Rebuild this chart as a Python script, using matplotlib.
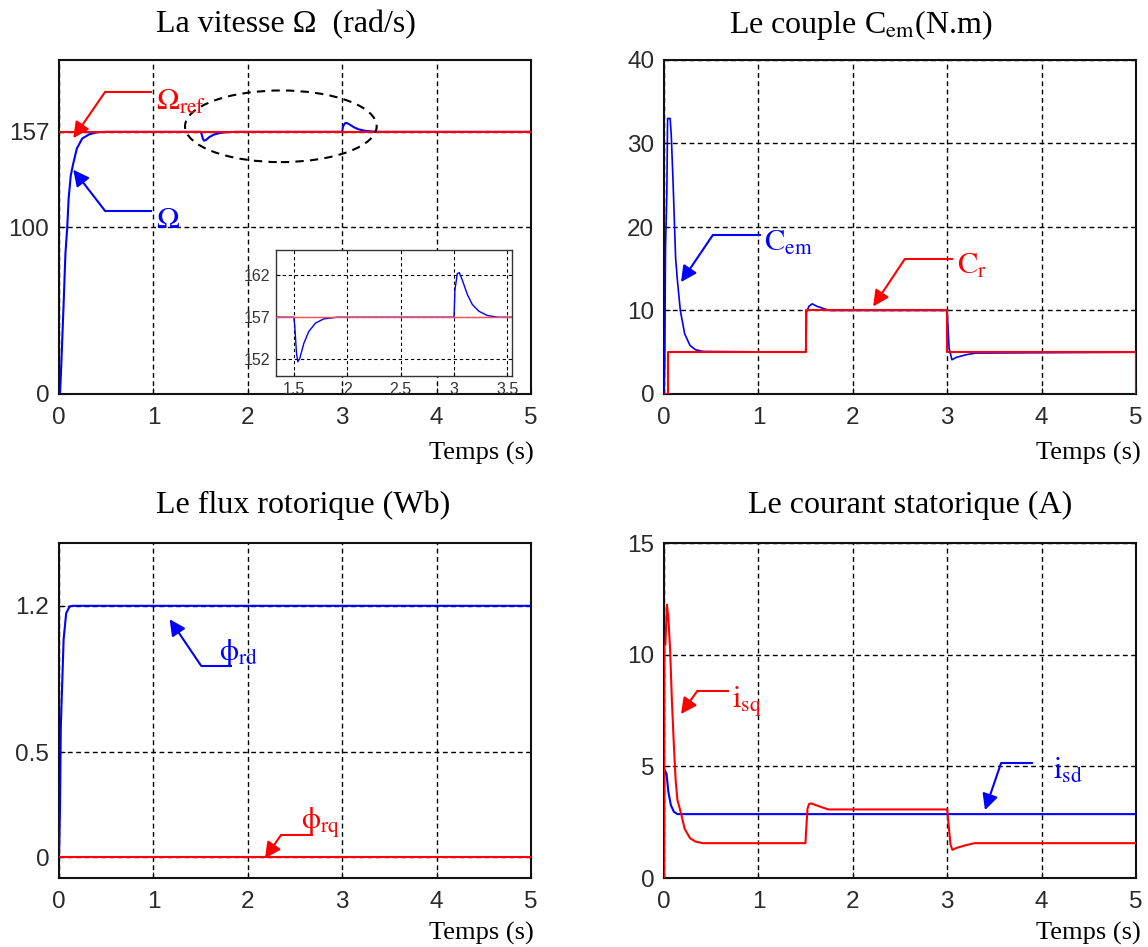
import matplotlib
matplotlib.use("Agg")
import matplotlib.pyplot as plt
from matplotlib.patches import Ellipse

plt.rcParams["mathtext.fontset"] = "stix"

# ---- simulation traces (time in s) ----
omega_ref_t = [0, 5]
omega_ref = [157, 157]
omega_t = [0, 0.011, 0.026, 0.049, 0.068, 0.087, 0.102, 0.125, 0.151, 0.189,
           0.246, 0.321, 0.397, 0.51,
           1.5, 1.509, 1.525, 1.5375, 1.556, 1.594, 1.64, 1.703, 1.78, 1.906,
           3.0, 3.009, 3.031, 3.05, 3.078, 3.125, 3.172, 3.234, 3.313, 3.41, 5.0]
omega = [0, 0, 20, 54, 84, 99.6, 117, 131, 138, 147,
         153, 155.5, 156.7, 157,
         157, 155.9, 152.7, 151.7, 152.1, 153.9, 155.3, 156.3, 156.8, 157,
         157, 160.3, 162.2, 162.3, 161.4, 159.7, 158.5, 157.7, 157.2, 157, 157]

cem_t = [0, 0.008, 0.016, 0.03, 0.038, 0.065, 0.077, 0.096, 0.111, 0.123,
         0.142, 0.173, 0.219, 0.276, 0.334, 0.41,
         1.5, 1.505, 1.51, 1.535, 1.57, 1.62, 1.7, 1.75,
         3.0, 3.005, 3.02, 3.05, 3.1, 3.2, 3.3, 5.0]
cem = [0, 3.5, 17.5, 24, 33, 33, 31, 25.4, 20.3, 16.3,
       13.6, 10, 7.2, 5.8, 5.3, 5.1,
       5, 6.4, 9.8, 10.5, 10.8, 10.5, 10.2, 10,
       10, 8.8, 5.5, 4.1, 4.4, 4.7, 4.9, 5]
cr_t = [0, 0.04, 1.5, 3.0, 5.0]
cr = [0, 5, 10, 5, 0]

phird_t = [0, 0.011, 0.019, 0.038, 0.049, 0.076, 0.113, 0.15, 5.0]
phird = [0, 0.237, 0.62, 0.885, 1.04, 1.165, 1.197, 1.2, 1.2]
phirq_t = [0, 5]
phirq = [0, 0]

isd_t = [0, 0.003, 0.008, 0.027, 0.046, 0.073, 0.104, 0.142, 5.0]
isd = [0, 4.8, 4.82, 4.67, 3.86, 3.26, 2.97, 2.86, 2.86]
isq_t = [0, 0.004, 0.015, 0.031, 0.046, 0.065, 0.084, 0.104, 0.123, 0.142,
         0.18, 0.219, 0.276, 0.334, 0.41,
         1.498, 1.51, 1.52, 1.536, 1.56, 1.65, 1.74,
         3.0, 3.01, 3.035, 3.055, 3.1, 3.2, 3.29, 5.0]
isq = [0, 10.4, 10.46, 12.24, 11.65, 10.2, 7.9, 6.0, 4.4, 3.5,
       2.9, 2.2, 1.78, 1.63, 1.56,
       1.56, 2.4, 3.1, 3.31, 3.34, 3.2, 3.07,
       3.07, 2.6, 1.5, 1.26, 1.35, 1.47, 1.56, 1.56]

time_ticks = [0, 1, 2, 3, 4, 5]

BLUE = "#0000ff"
RED = "#ff0000"
SERIF = ["Liberation Serif", "DejaVu Serif"]
SANS = ["Liberation Sans", "DejaVu Sans"]
GRID = dict(color="black", linestyle=(0, (3.5, 2.5)), linewidth=1.0)

W, H = 1148, 947
fig = plt.figure(figsize=(W / 100, H / 100), dpi=100)
fig.patch.set_facecolor("white")


def rect(x0, x1, y0, y1):
    return [x0 / W, 1 - y1 / H, (x1 - x0) / W, (y1 - y0) / H]


def style(ax, yticks, ylabels, ylim, size=17.5, xpad=9, ypad=7):
    ax.set_xlim(0, 5)
    ax.set_ylim(*ylim)
    ax.set_xticks(time_ticks)
    ax.set_xticklabels([str(t) for t in time_ticks])
    ax.set_yticks(yticks)
    ax.set_yticklabels(ylabels)
    ax.grid(True, **GRID)
    ax.set_axisbelow(True)
    ax.tick_params(direction="in", length=4, labelsize=size, labelcolor="#2a2a2a")
    ax.tick_params(axis="x", pad=xpad)
    ax.tick_params(axis="y", pad=ypad)
    for lab in ax.get_xticklabels() + ax.get_yticklabels():
        lab.set_family(SANS)
    for s in ax.spines.values():
        s.set_linewidth(1.5)
        s.set_color("#111111")


def callout(ax, text, color, start, corner, tip, tpos):
    ax.plot([start[0], corner[0]], [start[1], corner[1]], color=color, lw=1.5,
            solid_capstyle="butt", zorder=6)
    ax.annotate("", xy=tip, xytext=corner,
                arrowprops=dict(arrowstyle="-|>", color=color, lw=1.5,
                                mutation_scale=24, shrinkA=0, shrinkB=0),
                zorder=6)
    ax.text(tpos[0], tpos[1], text, color=color, fontsize=22, ha="left",
            va="baseline", family=SERIF, zorder=6)


def titles(x, y, s):
    fig.text(x / W, 1 - y / H, s, ha="center", va="center", fontsize=23,
             family=SERIF)


def temps(x, y):
    fig.text(x / W, 1 - y / H, "Temps (s)", ha="right", va="center",
             fontsize=19, family=SERIF)


# ---- speed ----
ax1 = fig.add_axes(rect(59, 531, 60, 394))
ax1.plot(omega_t, omega, color=BLUE, lw=1.5, zorder=3)
ax1.plot(omega_ref_t, omega_ref, color=RED, lw=1.5, zorder=4)
style(ax1, [0, 100, 157], ["0", "100", "157"], (0, 200))
ax1.add_patch(Ellipse((2.35, 160.3), 2.03, 42.9, fill=False, color="black",
                      linestyle=(0, (4, 3)), lw=1.5, zorder=5))
callout(ax1, r"$\mathrm{\Omega_{ref}}$", RED, (0.983, 181), (0.49, 181),
        (0.151, 153.2), (1.03, 170.4))
callout(ax1, r"$\mathrm{\Omega}$", BLUE, (0.983, 109.5), (0.49, 109.5),
        (0.151, 134.3), (1.03, 99.6))

axi = fig.add_axes(rect(276, 512, 250, 376))
axi.plot(omega_t, omega, color=BLUE, lw=1.0, zorder=3)
axi.plot(omega_ref_t, omega_ref, color="#ff5050", lw=1.0, zorder=4)
axi.set_xlim(1.333, 3.543)
axi.set_ylim(150, 165)
axi.set_xticks([1.5, 2, 2.5, 3, 3.5])
axi.set_xticklabels(["1.5", "2", "2.5", "3", "3.5"])
axi.set_yticks([152, 157, 162])
axi.set_yticklabels(["152", "157", "162"])
axi.grid(True, color="black", linestyle=(0, (3, 2.5)), linewidth=0.8)
axi.tick_params(direction="in", length=3, labelsize=11.5, labelcolor="#333333",
                pad=4)
for lab in axi.get_xticklabels() + axi.get_yticklabels():
    lab.set_family(SANS)
for s in axi.spines.values():
    s.set_linewidth(1.0)
    s.set_color("#333333")
titles(286, 25, "La vitesse Ω  (rad/s)")
temps(534, 453)

# ---- torque ----
ax2 = fig.add_axes(rect(664, 1136, 60, 394))
ax2.plot(cem_t, cem, color=BLUE, lw=1.2, zorder=3)
ax2.plot(cr_t, cr, color=RED, lw=1.5, drawstyle="steps-post", zorder=4)
style(ax2, [0, 10, 20, 30, 40], ["0", "10", "20", "30", "40"], (0, 40))
callout(ax2, r"$\mathrm{C_{em}}$", BLUE, (1.025, 19.05), (0.518, 19.05),
        (0.18, 13.4), (1.064, 17.1))
callout(ax2, r"$\mathrm{C_{r}}$", RED, (3.06, 16.15), (2.55, 16.15),
        (2.216, 10.48), (3.10, 14.4))
titles(861, 25, r"Le couple C$_{\mathrm{em}}$(N.m)")
temps(1141, 453)

# ---- rotor flux ----
ax3 = fig.add_axes(rect(59, 531, 543, 878))
ax3.plot(phird_t, phird, color=BLUE, lw=1.5, zorder=3)
ax3.plot(phirq_t, phirq, color=RED, lw=1.5, zorder=4)
style(ax3, [0, 0.5, 1.2], ["0", "0.5", "1.2"], (-0.1, 1.5))
callout(ax3, r"$\mathrm{\phi_{rd}}$", BLUE, (1.834, 0.914), (1.505, 0.914),
        (1.172, 1.136), (1.70, 0.94))
callout(ax3, r"$\mathrm{\phi_{rq}}$", RED, (2.693, 0.1056), (2.352, 0.1056),
        (2.182, -0.0064), (2.56, 0.133))
titles(303, 505, "Le flux rotorique (Wb)")
temps(534, 933)

# ---- stator current ----
ax4 = fig.add_axes(rect(664, 1136, 543, 878))
ax4.plot(isd_t, isd, color=BLUE, lw=1.5, zorder=3)
ax4.plot(isq_t, isq, color=RED, lw=1.5, zorder=4)
style(ax4, [0, 5, 10, 15], ["0", "5", "10", "15"], (0, 15))
callout(ax4, r"$\mathrm{i_{sq}}$", RED, (0.691, 8.38), (0.353, 8.38),
        (0.18, 7.34), (0.718, 7.64))
callout(ax4, r"$\mathrm{i_{sd}}$", BLUE, (3.913, 5.15), (3.571, 5.15),
        (3.40, 3.04), (4.117, 4.45))
titles(910, 505, "Le courant statorique (A)")
temps(1141, 933)

fig.savefig("out.png", dpi=100, facecolor="white")
